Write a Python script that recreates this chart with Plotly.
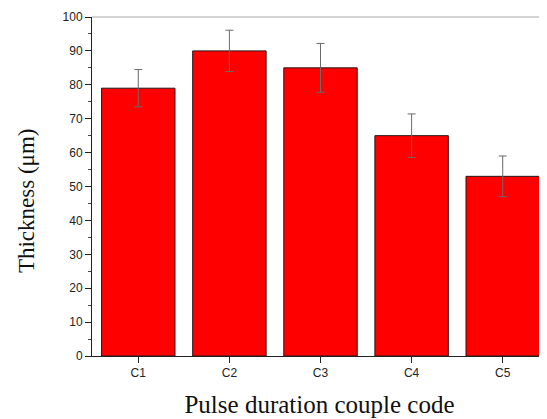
import plotly.graph_objects as go

categories = ["C1", "C2", "C3", "C4", "C5"]
thickness = [79, 90, 85, 65, 53]
errors = [5.5, 6.1, 7.2, 6.4, 6.0]
y_ticks = [0, 10, 20, 30, 40, 50, 60, 70, 80, 90, 100]

fig = go.Figure()
fig.add_trace(go.Bar(
    x=categories,
    y=thickness,
    marker=dict(color="#ff0000", line=dict(color="#2a1515", width=1)),
    error_y=dict(type="data", array=errors, visible=True,
                 color="#6a6a6a", thickness=1, width=4),
))

# page body has an 8px default margin, so the figure is sized to fit the window
fig.update_layout(
    width=539, height=411,
    margin=dict(l=84, r=0, t=9, b=63),
    paper_bgcolor="white", plot_bgcolor="white",
    bargap=0.194,
    showlegend=False,
    font=dict(family="Liberation Sans, Arial", color="#222222"),
    shapes=[dict(type="line", xref="paper", yref="paper", x0=0, x1=1, y0=1, y1=1,
                 line=dict(color="#c4c4c4", width=1.5))],
    annotations=[dict(text="Thickness (μm)", textangle=-90,
                      xref="paper", yref="paper", x=-0.145, y=0.457,
                      xanchor="center", yanchor="middle", showarrow=False,
                      font=dict(family="Liberation Serif, Times New Roman", size=23, color="#111111"))],
)

fig.update_xaxes(
    type="category",
    range=[-0.508, 4.486],
    automargin=False,
    showline=True, linecolor="#222222", linewidth=1,
    ticks="outside", ticklen=6, tickcolor="#222222", tickwidth=1,
    minor=dict(ticks="outside", ticklen=4, tickcolor="#444444", tickwidth=1),
    tickfont=dict(size=12, family="Liberation Sans, Arial", color="#222222"),
    title=dict(text="Pulse duration couple code",
               font=dict(family="Liberation Serif, Times New Roman", size=25, color="#111111"),
               standoff=16),
    showgrid=False, zeroline=False,
)

fig.update_yaxes(
    range=[0, 100],
    tickvals=y_ticks,
    automargin=False,
    showline=True, linecolor="#222222", linewidth=1,
    ticks="outside", ticklen=6, tickcolor="#222222", tickwidth=1,
    minor=dict(ticks="outside", ticklen=3, dtick=5, tickcolor="#444444", tickwidth=1),
    tickfont=dict(size=12, family="Liberation Sans, Arial", color="#222222"),
    showgrid=False, zeroline=False,
)

fig.write_html("out.html")
